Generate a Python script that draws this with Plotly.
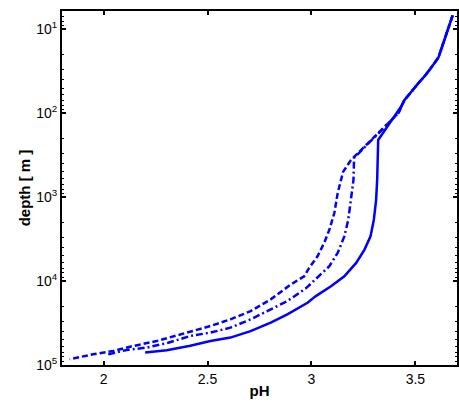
import plotly.graph_objects as go

# solid curve (pH, depth in m)
ph_solid = [3.679, 3.659, 3.640, 3.611, 3.577, 3.548, 3.514, 3.480, 3.447, 3.432, 3.374, 3.321,
            3.316, 3.311, 3.300, 3.284, 3.255, 3.215, 3.158, 3.094, 3.021, 2.981, 2.884,
            2.804, 2.707, 2.610, 2.514, 2.417, 2.304, 2.200]
depth_solid = [6.8, 9.7, 13.5, 21.5, 28.3, 35.2, 43.8, 56, 69.7, 82, 134, 208,
               621, 1074, 1855, 2930, 4215, 6065, 8750, 11500, 15100, 18100, 24900,
               31300, 39400, 47100, 51800, 59000, 66700, 71100]

# dash-dot curve
ph_dashdot = [3.679, 3.659, 3.640, 3.611, 3.577, 3.548, 3.514, 3.480, 3.447, 3.418, 3.316, 3.215,
              3.205, 3.202, 3.190, 3.177, 3.158, 3.126, 3.086, 3.029, 2.973, 2.884, 2.804,
              2.707, 2.610, 2.514, 2.417, 2.311, 2.208, 2.111, 2.015]
depth_dashdot = [6.8, 9.7, 13.5, 21.5, 28.3, 35.2, 43.8, 56, 69.7, 99.5, 177, 314,
                 340, 621, 1074, 1855, 2930, 4610, 6650, 9140, 12200, 17300, 21700,
                 28600, 35900, 41100, 45100, 54300, 62000, 66200, 75500]

# dashed curve
ph_dashed = [3.679, 3.659, 3.640, 3.611, 3.577, 3.548, 3.514, 3.480, 3.447, 3.418, 3.316, 3.215,
             3.190, 3.152, 3.142, 3.126, 3.110, 3.086, 3.061, 3.029, 2.989, 2.965, 2.900,
             2.804, 2.707, 2.610, 2.514, 2.407, 2.256, 2.143, 2.046, 1.950, 1.837]
depth_dashed = [6.8, 9.7, 13.5, 21.5, 28.3, 35.2, 43.8, 56, 69.7, 99.5, 177, 314,
                360, 499, 621, 894, 1545, 2440, 3510, 5060, 6950, 8750, 11000,
                16500, 22800, 28600, 34300, 40700, 51800, 59300, 68000, 74500, 85300]

x_ticks = [2, 2.5, 3, 3.5]
x_ticktext = ["2", "2.5", "3", "3.5"]
y_ticks = [10, 100, 1000, 10000, 100000]
y_ticktext = ["10<sup>1</sup>", "10<sup>2</sup>", "10<sup>3</sup>", "10<sup>4</sup>", "10<sup>5</sup>"]
y_minor = [m * 10 ** k for k in range(0, 5) for m in range(2, 10)]

BLUE = "#0000ff"
FONT = "Liberation Sans, Arial, sans-serif"

fig = go.Figure()
fig.add_trace(go.Scatter(x=ph_solid, y=depth_solid, mode="lines",
                         line=dict(color=BLUE, width=2.5), showlegend=False))
fig.add_trace(go.Scatter(x=ph_dashdot, y=depth_dashdot, mode="lines",
                         line=dict(color=BLUE, width=2.5, dash="7px,3px,2px,3px"), showlegend=False))
fig.add_trace(go.Scatter(x=ph_dashed, y=depth_dashed, mode="lines",
                         line=dict(color=BLUE, width=2.5, dash="6px,3px"), showlegend=False))

axis_common = dict(
    showline=True, linecolor="black", linewidth=2, mirror="ticks",
    ticks="inside", ticklen=4, tickwidth=1.5, tickcolor="black",
    showgrid=False, zeroline=False,
    tickfont=dict(family=FONT, size=14, color="black"),
)

fig.update_layout(
    width=459, height=405,
    margin=dict(l=62, r=2, t=11, b=40, autoexpand=False),
    paper_bgcolor="white", plot_bgcolor="white",
    font=dict(family=FONT, color="black"),
    xaxis=dict(
        range=[1.8, 3.7], tickvals=x_ticks, ticktext=x_ticktext,
        title=dict(text="<b>pH</b>", font=dict(size=15), standoff=0),
        **axis_common,
    ),
    yaxis=dict(
        type="log", range=[5, 0.78], tickvals=y_ticks, ticktext=y_ticktext,
        title=dict(text="<b>depth [ m ]</b>", font=dict(size=15), standoff=2),
        minor=dict(tickvals=y_minor, ticks="inside", ticklen=2, tickwidth=1, tickcolor="black"),
        **axis_common,
    ),
)

fig.write_html("out.html", config={"displayModeBar": False},
               post_script="document.body.style.margin='0';")
